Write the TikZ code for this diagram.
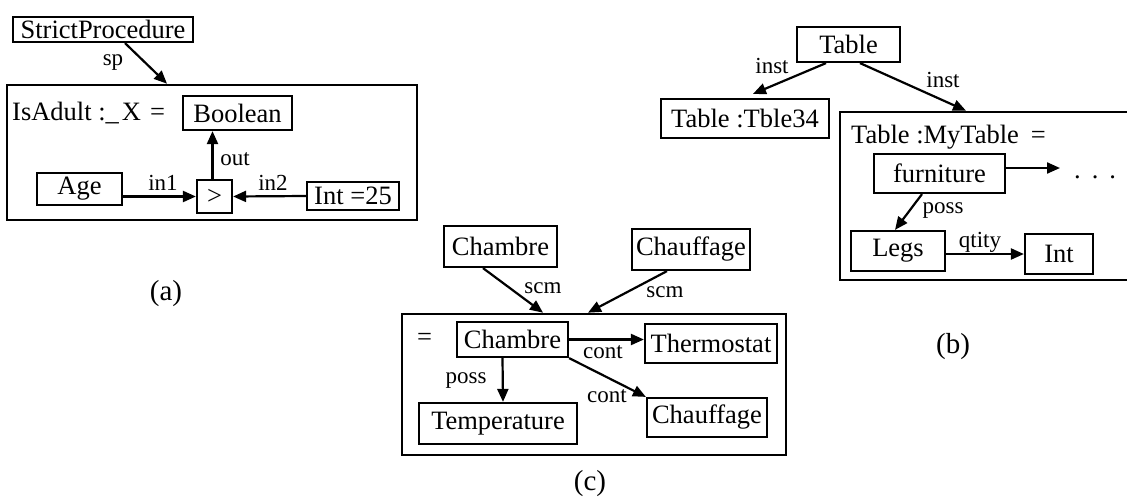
\documentclass[tikz,border=0pt]{standalone}
\usepackage{fontspec}
\setmainfont{Liberation Serif}
\usetikzlibrary{arrows.meta,positioning,calc}
\tikzset{box/.style={draw,line width=2.2pt,inner sep=0pt,font=\fontsize{26.5}{28}\selectfont},frame/.style={draw,line width=2.6pt,inner sep=0pt},edge/.style={-{Triangle[length=13pt,width=11pt]},line width=2.2pt},lbl/.style={inner sep=0pt,anchor=base,font=\fontsize{23}{25}\selectfont},txt/.style={inner sep=0pt,anchor=base west,font=\fontsize{26.5}{28}\selectfont},subcap/.style={inner sep=0pt,anchor=base,font=\fontsize{29}{31}\selectfont}}

\begin{document}
\begin{tikzpicture}[x=1pt,y=-1pt]
\useasboundingbox (0,0) rectangle (1127,501);
% (a)
\node[frame,minimum width=410pt,minimum height=135pt] (fa) at (212,152.5) {};
\node[box,minimum width=180pt,minimum height=25pt] (proc) at (103,29.5) {StrictProcedure};
\node[txt] (isadult) at (12,120) {IsAdult :\_\hspace{3pt}X\hspace{9pt}=};
\node[box,minimum width=109pt,minimum height=34pt] (bool) at (237.5,113) {Boolean};
\node[box,minimum width=35pt,minimum height=33pt] (gt) at (214.5,196.5) {>};
\node[box,minimum width=85pt,minimum height=32pt] (age) at (79.5,189) {Age};
\node[box,minimum width=92pt,minimum height=28pt] (int25) at (353,196) {Int =25};
\draw[edge]([xshift=22pt]proc.south)--([xshift=-45pt]fa.north);
\draw[edge](age.east |- gt)--(gt.west);
\draw[edge](int25.west)--(gt.east);
\draw[edge]([xshift=-2pt]gt.north)--([xshift=-2pt]gt.north |- bool.south);
\node[lbl] (lsp) at (113,65) {sp};\node[lbl] (lin1) at (163,190) {in1};
\node[lbl] (lin2) at (273,190) {in2};\node[lbl] (lout) at (235,165) {out};
\node[subcap] (capa) at (166,300) {(a)};
% (b)
\node[frame,minimum width=300pt,minimum height=168pt] (fb) at (990,196) {};
\node[box,minimum width=103pt,minimum height=35pt] (tbl) at (848.5,44.5) {Table};
\node[box,minimum width=168pt,minimum height=39pt] (tble) at (745,118.5) {Table :Tble34};
\node[txt] (mytable) at (851,143) {Table :MyTable\hspace{12pt}=};
\node[box,minimum width=131pt,minimum height=39pt] (furn) at (939.5,173.5) {furniture};
\node[box,minimum width=94pt,minimum height=40pt] (legs) at (898,251) {Legs};
\node[box,minimum width=68pt,minimum height=40pt] (int) at (1059,254) {Int};
\coordinate (more) at (1060,168);
\node[txt] (dots) at (1074,178) {.\hspace{11pt}.\hspace{11pt}.};
\draw[edge]([xshift=-22.5pt]tbl.south)--([xshift=8pt,yshift=4pt]tble.north);
\draw[edge]([xshift=11.5pt]tbl.south)--([xshift=-24pt]fb.north);
\draw[edge](furn.east |- more)--(more);
\draw[edge]([xshift=-17.5pt]furn.south)--([xshift=-3pt]legs.north);
\draw[edge](legs.east |- int)--(int.west);
\node[lbl] (linst1) at (772,73) {inst};\node[lbl] (linst2) at (943,87) {inst};
\node[lbl] (lposs1) at (943,213) {poss};\node[lbl] (lqtity) at (980,247) {qtity};
\node[subcap] (capb) at (953,353) {(b)};
% (c)
\node[frame,minimum width=384pt,minimum height=141pt] (fc) at (594,384.5) {};
\node[box,minimum width=113pt,minimum height=41pt] (cham) at (500.5,246.5) {Chambre};
\node[box,minimum width=118pt,minimum height=41pt] (chauf) at (691,249.5) {Chauffage};
\node[txt] (eq) at (417,345) {=};
\node[box,minimum width=111pt,minimum height=35pt] (chin) at (512.5,339.5) {Chambre};
\node[box,minimum width=132pt,minimum height=39pt] (thermo) at (711,343.5) {Thermostat};
\node[box,minimum width=120pt,minimum height=39pt] (chaufin) at (707,417.5) {Chauffage};
\node[box,minimum width=158pt,minimum height=41pt] (temp) at (498,423.5) {Temperature};
\draw[edge]([xshift=-17.5pt]cham.south)--([xshift=-51pt]fc.north);
\draw[edge]([xshift=-24pt]chauf.south)--([xshift=-6pt]fc.north);
\draw[edge](chin.east)--(chin.east -| thermo.west);
\draw[edge](chin.south east)--(chaufin.north west);
\draw[edge]([xshift=-10pt]chin.south)--([xshift=5pt]temp.north);
\node[lbl] (lscm1) at (543,293) {scm};\node[lbl] (lscm2) at (665,297) {scm};
\node[lbl] (lcont1) at (603,358) {cont};\node[lbl] (lcont2) at (607,402) {cont};
\node[lbl] (lposs2) at (466,383) {poss};
\node[subcap] (capc) at (590,490) {(c)};
\end{tikzpicture}
\end{document}
